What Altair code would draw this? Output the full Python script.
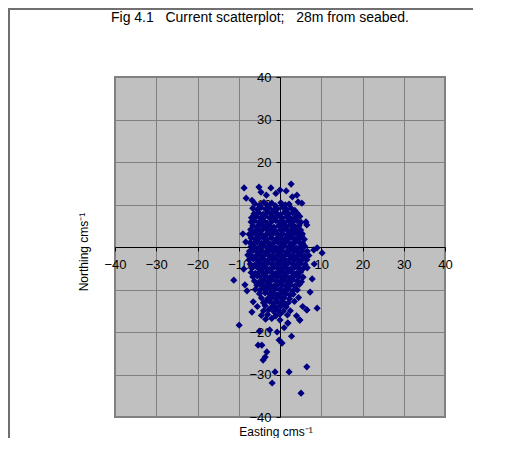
import altair as alt
import pandas as pd

# ---- data (cm/s) ----
east_core = [
    -6.1, -5.0, -3.9, -3.1, -2.0, -1.1, 0.2, 1.3, 2.2,
    -6.6, -5.5, -4.6, -3.5, -2.6, -1.5, -0.6, 0.6, 1.6, 2.7, 3.6,
    -6.3, -5.2, -4.1, -3.0, -2.1, -0.9, 0.1, 1.1, 2.1, 3.1, 4.2,
    -6.9, -5.8, -4.7, -3.6, -2.5, -1.6, -0.5, 0.5, 1.6, 2.6, 3.7, 4.8,
    -7.0, -6.1, -5.1, -4.0, -3.1, -2.0, -1.0, 0.0, 1.0, 2.1, 3.1, 4.1, 5.1,
    -6.6, -5.6, -4.5, -3.5, -2.6, -1.5, -0.4, 0.5, 1.5, 2.6, 3.6, 4.6,
    -7.1, -6.0, -5.0, -4.1, -3.0, -2.0, -1.1, 0.1, 1.1, 2.0, 3.0, 4.1, 5.0,
    -7.5, -6.5, -5.5, -4.6, -3.5, -2.5, -1.6, -0.5, 0.6, 1.6, 2.5, 3.6, 4.6, 5.4,
    -7.0, -6.0, -5.1, -4.0, -3.1, -2.0, -0.9, 0.0, 1.0, 2.1, 3.1, 4.0, 5.0, 5.9,
    -7.3, -6.5, -5.6, -4.5, -3.6, -2.5, -1.5, -0.5, 0.5, 1.5, 2.6, 3.5, 4.6, 5.5,
    -7.0, -6.0, -5.0, -4.0, -3.0, -2.0, -1.0, 0.0, 1.0, 2.0, 3.0, 4.0, 5.0, 6.0,
    -7.4, -6.5, -5.5, -4.5, -3.5, -2.5, -1.5, -0.5, 0.5, 1.5, 2.5, 3.5, 4.5, 5.5, 6.6,
    -7.0, -6.0, -5.0, -4.0, -3.0, -2.0, -1.0, 0.0, 1.0, 2.0, 3.0, 4.0, 5.0, 6.0, 7.0,
    -7.5, -6.5, -5.5, -4.5, -3.5, -2.5, -1.5, -0.5, 0.5, 1.5, 2.5, 3.5, 4.5, 5.5, 6.5,
    -7.2, -6.1, -5.0, -4.0, -3.0, -2.0, -1.0, 0.0, 1.0, 2.0, 3.0, 4.0, 5.0, 6.1,
    -6.8, -5.5, -4.5, -3.5, -2.5, -1.5, -0.5, 0.5, 1.5, 2.5, 3.5, 4.5, 5.6, 6.6,
    -7.0, -6.0, -5.0, -4.0, -3.0, -2.0, -1.0, 0.0, 1.0, 2.0, 3.0, 4.0, 5.0,
    -6.6, -5.5, -4.5, -3.5, -2.5, -1.5, -0.5, 0.5, 1.5, 2.5, 3.5, 4.6, 5.6,
    -6.2, -5.0, -4.0, -3.0, -2.0, -1.0, 0.0, 1.0, 2.0, 3.0, 4.1, 5.2,
    -5.6, -4.5, -3.5, -2.5, -1.5, -0.5, 0.5, 1.5, 2.6, 3.6, 4.7,
    -6.0, -4.9, -4.0, -3.0, -2.0, -1.0, 0.0, 1.0, 2.0, 3.1, 4.2,
    -5.0, -3.6, -2.5, -1.5, -0.5, 0.6, 1.5, 2.4, 3.2,
    -4.5, -3.0, -2.0, -1.0, 0.0, 1.0, 2.3, 4.5,
    -6.5, -4.0, -3.2, -2.5, -1.5, -0.5, 0.5, 1.2, 2.0, 3.5,
    -5.5, -3.6, -2.0, -1.0, 0.2, 1.5, 5.5,
    -6.8, -4.0, -2.8, -1.5, -0.5, 0.8, 2.5, 6.5,
    -4.5, -3.0, -1.0, 0.0, 1.8, 4.0,
    -3.5, -2.0, 0.0, 1.9, 4.8,
]
north_core = [
    10.2, 9.8, 10.5, 9.9, 10.3, 9.7, 10.4, 9.9, 10.1,
    9.1, 8.8, 9.3, 8.9, 9.2, 8.7, 9.0, 9.4, 8.8, 9.1, 8.6,
    7.8, 8.1, 7.7, 8.2, 7.9, 8.0, 7.6, 8.2, 7.8, 8.0, 7.9,
    6.9, 7.1, 6.8, 7.2, 6.9, 7.0, 7.3, 6.8, 7.1, 6.7, 7.0, 7.2,
    5.9, 6.2, 5.8, 6.1, 5.7, 6.0, 6.2, 5.9, 5.8, 6.1, 5.9, 6.2, 5.8,
    5.0, 4.8, 5.2, 4.9, 5.1, 4.7, 5.0, 5.2, 4.9, 5.1, 4.8, 5.0,
    4.1, 3.8, 4.0, 4.2, 3.9, 4.1, 3.8, 4.0, 4.2, 3.9, 4.1, 3.8, 4.0,
    3.0, 3.2, 2.9, 3.1, 2.8, 3.0, 3.2, 2.9, 3.1, 2.8, 3.0, 3.2, 2.9, 3.1,
    2.1, 1.9, 2.0, 2.2, 1.8, 2.1, 1.9, 2.2, 1.8, 2.0, 2.1, 1.9, 2.2, 1.8,
    1.0, 0.8, 1.1, 0.9, 1.2, 0.8, 1.0, 1.1, 0.9, 1.2, 0.8, 1.0, 1.1, 0.9,
    0.1, -0.2, 0.0, 0.2, -0.1, 0.1, -0.2, 0.0, 0.2, -0.1, 0.1, -0.2, 0.0, 0.2,
    -1.0, -0.8, -1.1, -0.9, -1.2, -0.8, -1.0, -1.1, -0.9, -1.2, -0.8, -1.0, -1.1, -0.9, -1.0,
    -2.0, -2.2, -1.9, -2.1, -1.8, -2.0, -2.2, -1.9, -2.1, -1.8, -2.0, -2.2, -1.9, -2.1, -2.0,
    -3.0, -2.8, -3.1, -2.9, -3.2, -2.8, -3.0, -3.1, -2.9, -3.2, -2.8, -3.0, -3.1, -2.9, -3.0,
    -4.0, -4.2, -3.9, -4.1, -3.8, -4.0, -4.2, -3.9, -4.1, -3.8, -4.0, -4.2, -3.9, -4.1,
    -5.0, -4.8, -5.1, -4.9, -5.2, -4.8, -5.0, -5.1, -4.9, -5.2, -4.8, -5.0, -5.1, -4.9,
    -6.0, -6.2, -5.9, -6.1, -5.8, -6.0, -6.2, -5.9, -6.1, -5.8, -6.0, -6.2, -5.9,
    -7.0, -6.8, -7.1, -6.9, -7.2, -6.8, -7.0, -7.1, -6.9, -7.2, -6.8, -7.0, -7.1,
    -8.0, -8.2, -7.9, -8.1, -7.8, -8.0, -8.2, -7.9, -8.1, -7.8, -8.0, -8.2,
    -9.0, -8.8, -9.1, -8.9, -9.2, -8.8, -9.0, -9.1, -8.9, -9.2, -8.8,
    -10.0, -10.2, -9.8, -9.9, -10.1, -9.8, -10.0, -10.2, -9.9, -10.3, -10.1,
    -11.0, -10.8, -11.1, -10.9, -11.2, -10.8, -11.0, -11.3, -11.1,
    -12.0, -12.2, -11.9, -12.1, -11.8, -12.0, -12.2, -11.9,
    -12.9, -13.1, -12.6, -12.8, -13.2, -13.0, -12.9, -13.4, -13.1, -12.8,
    -14.0, -13.8, -14.1, -14.2, -13.9, -14.1, -14.0,
    -15.3, -15.0, -14.8, -15.2, -14.9, -15.1, -15.0, -14.8,
    -16.1, -15.9, -16.2, -15.8, -16.0, -16.2,
    -17.0, -16.8, -17.2, -17.9, -17.2,
]
east_out = [
    -8.7, -8.2, -5.1, -4.6, -2.2, 0.0, 1.5, 2.7, 4.1, 4.4, 5.3, -3.3, -1.0, 3.0, -6.8,
    6.3, 6.5, 5.3, 9.0, 10.2, 8.2, -9.0, -8.3, -7.8, -11.2, -8.5, -8.0, -9.9,
    7.3, 9.0, 6.5, 4.8, 1.9, -0.7, -0.2, 0.5, -5.3, -4.4, -3.2, -3.6, -4.1,
    6.5, -1.9, -1.2, 2.2, 5.1, 7.8, 8.3, -8.8, -2.5, 1.0, -5.0, 2.8,
]
north_out = [
    13.9, 11.5, 14.1, 12.9, 13.9, 13.4, 13.2, 14.8, 12.2, 10.6, 10.3, 12.2, 12.6, 11.8, 11.0,
    5.9, 5.2, 2.8, -0.2, -1.4, -0.7, 3.1, 1.2, -1.9, -7.8, -8.9, -10.3, -18.4,
    -10.6, -14.4, -14.8, -17.2, -17.9, -20.0, -21.9, -22.6, -23.1, -23.1, -24.7, -25.9, -26.6,
    -28.2, -32.0, -29.4, -29.4, -34.4, -7.5, -4.0, -5.2, -19.5, -19.0, -19.8, -21.0,
]
ticks = [-40, -30, -20, -10, 0, 10, 20, 30, 40]

NB = "\u00a0"
title_text = "Fig 4.1" + NB * 3 + "Current scatterplot;" + NB * 3 + "28m from seabed."
x_title = "Easting cms\u207b\u00b9"
y_title = "Northing cms\u207b\u00b9"

df = pd.DataFrame({
    "east": east_core + east_out,
    "north": north_core + north_out,
})

FONT = "Liberation Sans"

axis_common = dict(
    values=ticks, title=None, grid=True, gridColor="#808080", gridWidth=1,
    domainColor="black", tickColor="black", tickSize=4, labelFont=FONT,
    labelFontSize=13, labelColor="black", labelFlush=False, labelOverlap=False,
)

points = alt.Chart(df).mark_point(
    shape="diamond", filled=True, color="#000080", size=52, opacity=1
).encode(
    x=alt.X("east:Q", scale=alt.Scale(domain=[-40, 40], nice=False),
            axis=alt.Axis(offset=-170, labelPadding=7, **axis_common)),
    y=alt.Y("north:Q", scale=alt.Scale(domain=[-40, 40], nice=False),
            axis=alt.Axis(offset=-165, labelPadding=5, **axis_common)),
)

title = alt.Chart(pd.DataFrame({"t": [title_text]})).mark_text(
    font=FONT, fontSize=14, color="black", align="center", baseline="middle"
).encode(text="t:N", x=alt.value(145), y=alt.value(-59))

xt = alt.Chart(pd.DataFrame({"t": [x_title]})).mark_text(
    font=FONT, fontSize=12, color="black", align="center", baseline="middle"
).encode(text="t:N", x=alt.value(161), y=alt.value(355))

yt = alt.Chart(pd.DataFrame({"t": [y_title]})).mark_text(
    font=FONT, fontSize=12, color="black", align="center", baseline="middle", angle=270
).encode(text="t:N", x=alt.value(-31), y=alt.value(175))

frame_left = alt.Chart(pd.DataFrame({"a": [0]})).mark_rule(
    color="#707070", strokeWidth=2
).encode(x=alt.value(-106), y=alt.value(-69), y2=alt.value(361))

frame_top = alt.Chart(pd.DataFrame({"a": [0]})).mark_rule(
    color="#707070", strokeWidth=2
).encode(y=alt.value(-68), x=alt.value(-107), x2=alt.value(358))

chart = alt.layer(points, title, xt, yt, frame_left, frame_top).properties(
    width=330, height=340,
    autosize=alt.AutoSizeParams(type="none"),
    padding={"left": 107, "top": 69, "right": 30, "bottom": 21},
    background="white",
).configure_view(
    fill="#C0C0C0", stroke="#808080", strokeWidth=2
)

chart.save("out.html", embed_options={"renderer": "svg", "actions": False})
